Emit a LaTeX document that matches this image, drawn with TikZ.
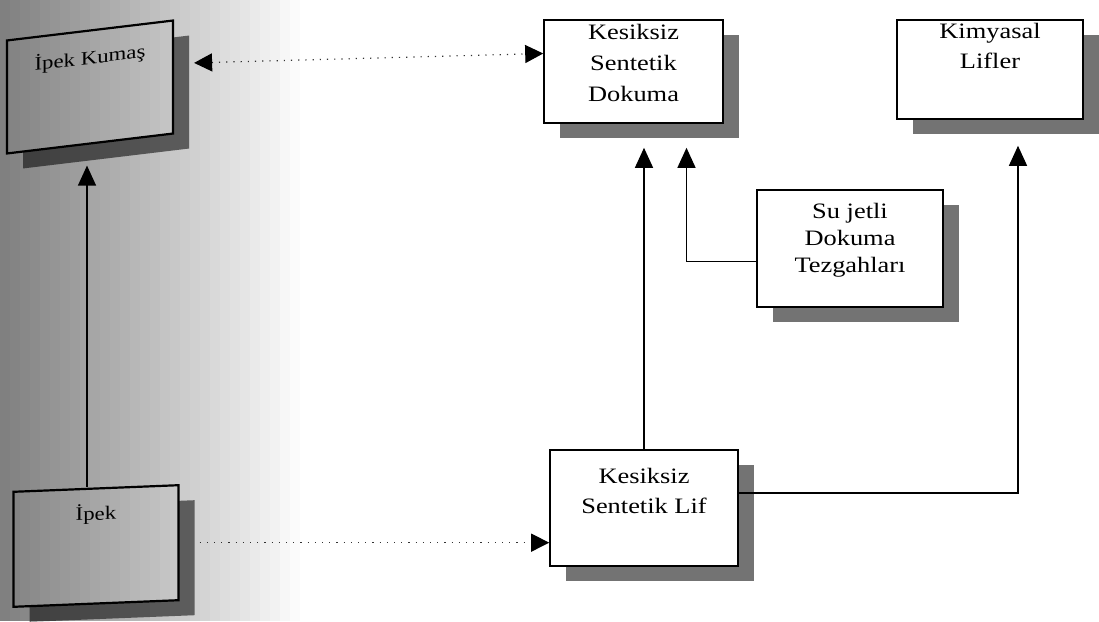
\documentclass[tikz,border=0pt]{standalone}
\usepackage{fontspec}
\setmainfont{Liberation Serif}[FakeStretch=1.2]
\usetikzlibrary{arrows.meta,shadows}

% text at the top of a box: width, height, gap above, lines
\newcommand{\boxtext}[4]{\parbox[t][#2][t]{#1}{\centering\vspace*{#3}#4}}

\tikzset{
  shadowbox/.style={draw, line width=1.6pt, fill=white, inner sep=0pt,
    drop shadow={shadow xshift=16pt, shadow yshift=-15pt, fill=black!55, opacity=1}},
  arrowline/.style={line width=1.3pt, -{Triangle[width=18pt,length=20pt]}},
  dotline/.style={line width=1.2pt, dash pattern=on 1.2pt off 6pt, black!80}
}

\begin{document}
\begin{tikzpicture}[x=1pt,y=-1pt]
    \useasboundingbox (0,0) rectangle (1099,621);

    % boxes
    \node[shadowbox, yslant=0.12, line width=2.2pt, font=\fontsize{19}{24}\selectfont] (kumas) at (90,87)
        {\boxtext{166pt}{113pt}{18pt}{İpek Kumaş}};
    \node[shadowbox, yslant=0.04, line width=2.2pt, font=\fontsize{19}{24}\selectfont] (ipek) at (96,546)
        {\boxtext{165pt}{115pt}{16pt}{İpek}};
    \node[shadowbox, font=\fontsize{22}{31}\selectfont] (dokuma) at (633.5,71.5)
        {\boxtext{179pt}{103pt}{4pt}{Kesiksiz\\Sentetik\\Dokuma}};
    \node[shadowbox, font=\fontsize{22}{30}\selectfont] (kimyasal) at (990,69.5)
        {\boxtext{186pt}{99pt}{3pt}{Kimyasal\\Lifler}};
    \node[shadowbox, font=\fontsize{22}{27}\selectfont] (sujet) at (850,248.5)
        {\boxtext{186pt}{117pt}{13pt}{Su jetli\\Dokuma\\Tezgahları}};
    \node[shadowbox, font=\fontsize{22}{30}\selectfont] (lif) at (644,508)
        {\boxtext{188pt}{116pt}{18pt}{Kesiksiz\\Sentetik Lif}};

    % connectors
    \draw[arrowline] ([xshift=-9pt]ipek.north) -- ([xshift=-3pt,yshift=-21pt]kumas.south);
    \draw[dotline, {Triangle[width=18pt,length=18pt,black]}-{Triangle[width=18pt,length=18pt,black]}]
        ([xshift=20pt,yshift=14pt]kumas.east) -- ([yshift=18pt]dokuma.west);
    \draw[dotline, -{Triangle[width=18pt,length=18pt,black]}] ([xshift=20pt]ipek.east) -- (ipek.east -| lif.west);
    \draw[arrowline, shorten >=24pt] (lif.north) -- (lif.north |- dokuma.south);
    \draw[arrowline, shorten >=24pt] ([yshift=-13pt]sujet.west) -| ([xshift=53pt]dokuma.south);
    \draw[arrowline, shorten >=26pt] ([yshift=15pt]lif.east) -| ([xshift=28pt]kimyasal.south);

    % grey edge of the scanned page
    \foreach \i [evaluate=\i as \g using 50-50*\i/30] in {0,...,29}
        \fill[black!\g, blend mode=multiply] (\i*10,0) rectangle (\i*10+10,621);
\end{tikzpicture}
\end{document}
